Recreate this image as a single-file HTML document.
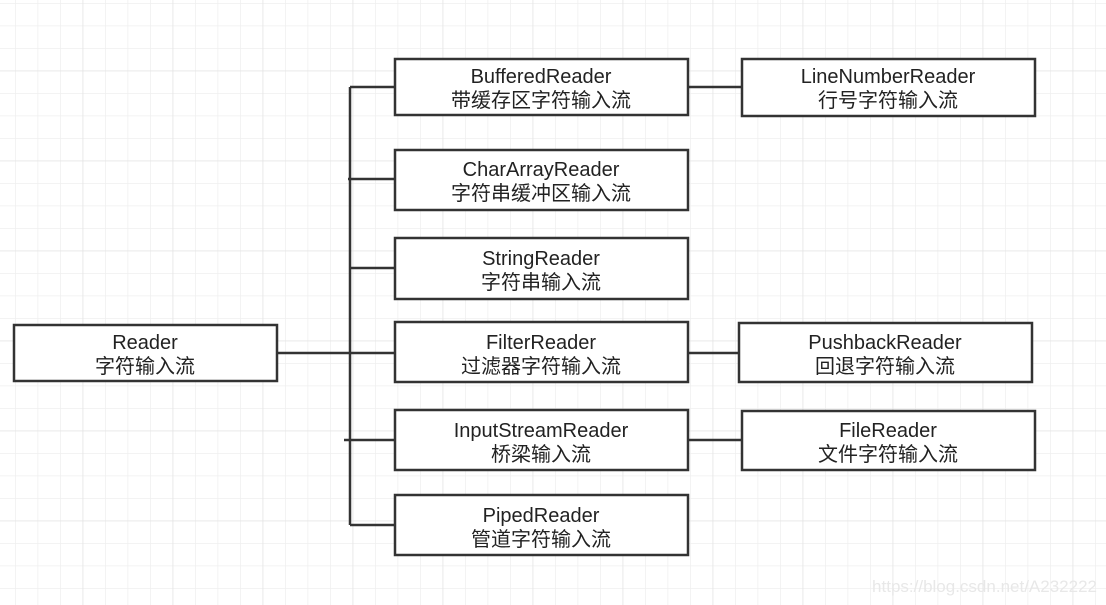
<!DOCTYPE html>
<html><head><meta charset="utf-8"><style>
body{margin:0;background:#fff;}
svg{display:block}
text{font-family:"Liberation Sans","Noto Sans CJK SC",sans-serif;font-size:20px;fill:#222;text-anchor:middle}
</style></head><body>
<svg width="1106" height="605" xmlns="http://www.w3.org/2000/svg">
<defs>
<pattern id="g" x="15" y="3" width="22.5" height="22.5" patternUnits="userSpaceOnUse">
<path d="M0 0V22.5M0 0H22.5" stroke="#efefef" stroke-width="1.5" fill="none"/>
</pattern>
<pattern id="G" x="82.5" y="70.5" width="90" height="90" patternUnits="userSpaceOnUse">
<path d="M0 0V90M0 0H90" stroke="#e4e4e4" stroke-width="1.5" fill="none"/>
</pattern>
</defs>
<rect width="1106" height="605" fill="url(#g)"/>
<rect width="1106" height="605" fill="url(#G)"/>
<g stroke="#333" stroke-width="2.5" fill="none">
<path d="M350 87V525"/>
<path d="M350 87H395M348 179H395M350 268H395M277 353H395M344 440H395M350 525H395"/>
<path d="M688 87H742M688 353H739M688 440H742"/>
</g>
<g stroke="#333" stroke-width="2.5" fill="#fff">
<rect x="14" y="325" width="263" height="56"/>
<rect x="395" y="59" width="293" height="56"/>
<rect x="395" y="150" width="293" height="60"/>
<rect x="395" y="238" width="293" height="61"/>
<rect x="395" y="322" width="293" height="60"/>
<rect x="395" y="410" width="293" height="60"/>
<rect x="395" y="495" width="293" height="60"/>
<rect x="742" y="59" width="293" height="57"/>
<rect x="739" y="323" width="293" height="59"/>
<rect x="742" y="411" width="293" height="59"/>
</g>
<text x="145" y="349">Reader</text><text x="145" y="373">字符输入流</text>
<text x="541" y="83">BufferedReader</text><text x="541" y="107">带缓存区字符输入流</text>
<text x="541" y="176">CharArrayReader</text><text x="541" y="200">字符串缓冲区输入流</text>
<text x="541" y="265">StringReader</text><text x="541" y="289">字符串输入流</text>
<text x="541" y="349">FilterReader</text><text x="541" y="373">过滤器字符输入流</text>
<text x="541" y="437">InputStreamReader</text><text x="541" y="461">桥梁输入流</text>
<text x="541" y="522">PipedReader</text><text x="541" y="546">管道字符输入流</text>
<text x="888" y="83">LineNumberReader</text><text x="888" y="107">行号字符输入流</text>
<text x="885" y="349">PushbackReader</text><text x="885" y="373">回退字符输入流</text>
<text x="888" y="437">FileReader</text><text x="888" y="461">文件字符输入流</text>
<text x="1097" y="592" style="font-size:17px;fill:#e8e8e8;text-anchor:end">https://blog.csdn.net/A232222</text>
</svg>
</body></html>
